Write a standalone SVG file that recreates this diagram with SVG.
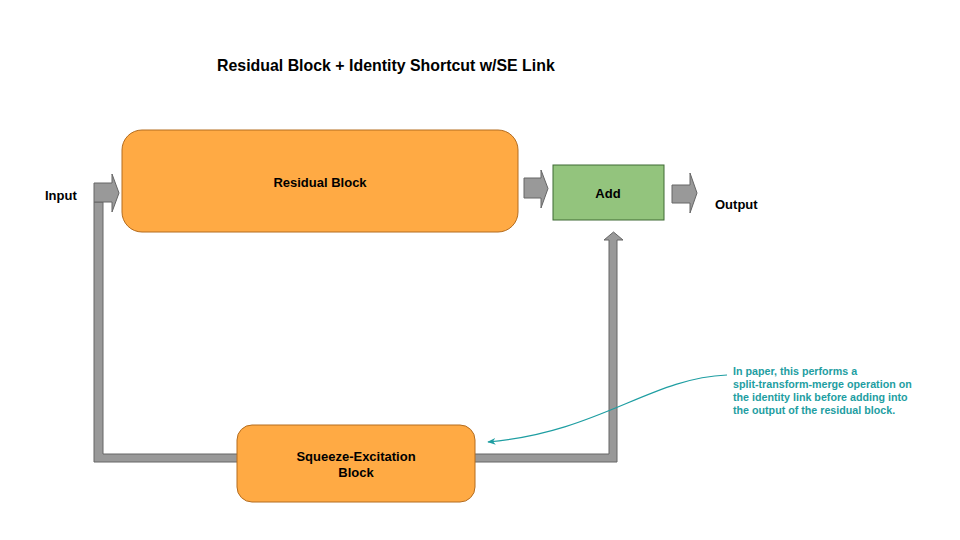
<svg xmlns="http://www.w3.org/2000/svg" width="960" height="540" viewBox="0 0 960 540">
<style>
text{font-family:"Liberation Sans",Arial,sans-serif;font-weight:bold;fill:#000}
.pipe{fill:#999999;stroke:#666666;stroke-width:1}
.orange{fill:#FFAA44;stroke:#B46C1E;stroke-width:1}
.lbl{font-size:13px;text-anchor:middle}
.note{font-size:10.7px;fill:#1E9EA2}
</style>
<defs>
<marker id="ah" viewBox="0 0 10 10" refX="9" refY="5" markerWidth="7" markerHeight="7" orient="auto-start-reverse">
<path d="M0,1 L10,5 L0,9 L3,5 Z" fill="#1E9EA2"/>
</marker>
</defs>
<rect width="960" height="540" fill="#fff"/>
<text x="217" y="71" font-size="15.9">Residual Block + Identity Shortcut w/SE Link</text>
<g id="connectors">
<path class="pipe" d="M94,202 H103 V454 H609 V240 H604 L613.5,232 L623,240 H617 V462 H94 Z"/>
<path class="pipe" d="M94,183 H112 V174 L119,193 L112,212 V202 H94 Z"/>
<path class="pipe" d="M524,178 H541 V170 L548,188.5 L541,208 V198 H524 Z"/>
<path class="pipe" d="M672,185 H690 V173 L697,193 L690,213 V203 H672 Z"/>
<path d="M727,375 C650,378 600,432 488,442" fill="none" stroke="#1E9EA2" stroke-width="1.2" marker-end="url(#ah)"/>
</g>
<g id="input-label"><text x="45" y="200" font-size="13">Input</text></g>
<g id="residual-block">
<rect class="orange" x="122" y="130" width="396" height="102" rx="20"/>
<text class="lbl" x="320" y="187">Residual Block</text>
</g>
<g id="add">
<rect x="553" y="165" width="111" height="55" fill="#93C47D" stroke="#3F6B34" stroke-width="1"/>
<text class="lbl" x="608" y="198">Add</text>
</g>
<g id="output-label"><text x="715" y="209" font-size="13">Output</text></g>
<g id="se-block">
<rect class="orange" x="237" y="425" width="238" height="77" rx="15"/>
<text class="lbl" x="356" y="461">Squeeze-Excitation</text>
<text class="lbl" x="356" y="477">Block</text>
</g>
<g id="note">
<text class="note" x="733" y="375">In paper, this performs a</text>
<text class="note" x="733" y="388">split-transform-merge operation on</text>
<text class="note" x="733" y="401">the identity link before adding into</text>
<text class="note" x="733" y="414">the output of the residual block.</text>
</g>
</svg>
